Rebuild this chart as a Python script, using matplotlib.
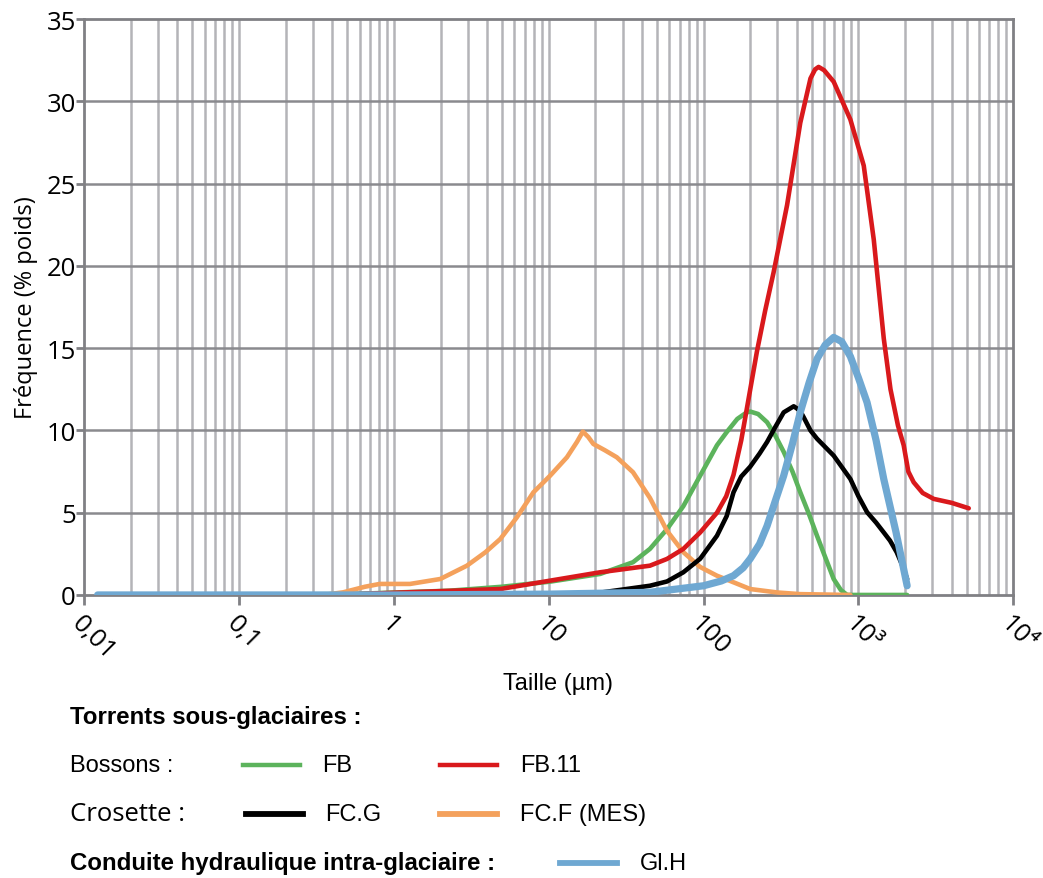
import numpy as np
import matplotlib.pyplot as plt
from matplotlib.lines import Line2D

# size (um) / frequency (% weight)
fb_x = [0.024, 0.5, 2.3, 5, 10.2, 21.5, 35, 45, 58, 74, 95, 122, 141, 165, 190, 200, 225,
        257, 290, 329, 375, 421, 480, 540, 610, 692, 770, 845, 2063]
fb_y = [0, 0.05, 0.26, 0.5, 0.81, 1.28, 1.99, 2.8, 4.0, 5.4, 7.25, 9.1, 9.9, 10.7, 11.1, 11.15, 11.0,
        10.5, 9.7, 8.7, 7.5, 6.24, 4.9, 3.6, 2.3, 0.97, 0.3, 0, 0]

fb11_x = [0.4, 4.86, 10.2, 21.5, 45, 58, 74, 95, 122, 140, 156, 175, 190, 221, 250, 283, 346, 421, 490,
          525, 553, 600, 692, 887, 1082, 1256, 1457, 1611, 1800, 1960, 2100, 2274, 2600,
          3063, 4000, 5156]
fb11_y = [0, 0.36, 0.87, 1.38, 1.78, 2.19, 2.8, 3.8, 5.0, 6.0, 7.3, 9.4, 11.3, 14.8, 17.3, 19.6, 23.7, 28.7, 31.4,
          31.95, 32.1, 31.9, 31.2, 28.9, 26.1, 21.6, 15.6, 12.5, 10.3, 9.1, 7.5, 6.85, 6.2,
          5.84, 5.6, 5.27]

fcg_x = [0.4, 20, 45, 58, 74, 95, 122, 141, 156, 175, 200, 230, 257, 290, 329, 382, 420, 443,
         490, 540, 692, 887, 1000, 1137, 1300, 1457, 1600, 1766, 1900, 2063]
fcg_y = [0, 0.1, 0.56, 0.82, 1.38, 2.2, 3.6, 4.8, 6.24, 7.2, 7.8, 8.6, 9.3, 10.2, 11.1, 11.47, 11.2, 10.8,
         10.0, 9.5, 8.47, 7.05, 6.0, 5.03, 4.4, 3.8, 3.3, 2.6, 1.9, 0.97]

fcf_x = [0.35, 0.47, 0.65, 0.81, 1.27, 1.99, 2.96, 3.9, 4.86, 6.2, 7.96, 10.2, 13.1, 15.2, 16.6, 18,
         19.4, 23, 27.5, 35, 45, 58, 74, 95, 122, 156, 200, 300, 421, 887]
fcf_y = [0, 0.16, 0.5, 0.67, 0.67, 0.97, 1.78, 2.6, 3.4, 4.7, 6.24, 7.25, 8.37, 9.3, 9.93, 9.6,
         9.18, 8.8, 8.37, 7.46, 5.9, 3.9, 2.6, 1.7, 1.17, 0.77, 0.36, 0.15, 0.05, 0]

glh_x = [0.0122, 1, 10, 45, 100, 130, 156, 180, 200, 230, 257, 290, 329, 375, 421, 480, 540, 610,
         692, 780, 887, 1000, 1137, 1300, 1457, 1750, 2063]
glh_y = [0, 0, 0.05, 0.16, 0.56, 0.85, 1.17, 1.65, 2.2, 3.1, 4.2, 5.7, 7.25, 9.2, 11.1, 12.9, 14.35, 15.2,
         15.66, 15.4, 14.5, 13.2, 11.7, 9.4, 7.05, 3.8, 0.56]

xticks = [0.01, 0.1, 1, 10, 100, 1000, 10000]
xticklabels = ['0,01', '0,1', '1', '10', '100', '10³', '10⁴']

green = '#5cb35c'
red = '#d9191c'
black = '#000000'
orange = '#f4a15c'
blue = '#6fa8d2'

fig = plt.figure(figsize=(10.43, 8.79), dpi=100)
ax = fig.add_axes([0.0808, 0.322, 0.8907, 0.655])

ax.set_xscale('log')
ax.set_xlim(0.01, 10000)
ax.set_ylim(0, 35)

# grid
for dec in range(-2, 4):
    for m in range(1, 10):
        v = m * 10.0 ** dec
        if v > 0.01:
            ax.axvline(v, color='#b4b4b8', lw=1.8, zorder=1)
for v in range(5, 35, 5):
    ax.axhline(v, color='#8a8a8e', lw=1.8, zorder=1)

for s in ax.spines.values():
    s.set_color('#808084')
    s.set_linewidth(2)
    s.set_zorder(2)

kw = dict(zorder=3, solid_capstyle='round', solid_joinstyle='round')
ax.plot(fb_x, fb_y, color=green, lw=3.3, **kw)
ax.plot(fcf_x, fcf_y, color=orange, lw=3.3, **kw)
ax.plot(fcg_x, fcg_y, color=black, lw=3.3, **kw)
ax.plot(fb11_x, fb11_y, color=red, lw=3.3, **kw)
ax.plot(glh_x, glh_y, color=blue, lw=5.2, **kw)

ax.set_yticks(range(0, 40, 5))
ax.set_yticklabels([str(v) for v in range(0, 40, 5)], fontsize=18.5, family='Open Sans')
ax.set_xticks(xticks)
ax.set_xticklabels(xticklabels, fontsize=18.5, family='Open Sans', rotation=-45,
                   ha='left', va='top', rotation_mode='anchor')
ax.xaxis.set_minor_locator(plt.NullLocator())
ax.tick_params(axis='y', length=6, width=2, color='#808084', pad=0)
ax.tick_params(axis='x', length=7, width=2, color='#808084', pad=4)

ax.set_ylabel('Fréquence (% poids)', fontsize=17, family='Open Sans', labelpad=6)
fig.text(558 / 1043, 1 - 684 / 879, 'Taille (µm)', fontsize=17, family='Liberation Sans',
         ha='center', va='center')

# legend block
def fy(py):
    return 1 - py / 879

def fx(px):
    return px / 1043

fig.text(fx(70), fy(718), 'Torrents sous-glaciaires :', fontsize=17.3, weight='bold',
         family='Liberation Sans', va='center')
fig.text(fx(70), fy(766), 'Bossons :', fontsize=17, family='Liberation Sans', va='center')
fig.text(fx(70), fy(815), 'Crosette :', fontsize=18.5, family='Open Sans', va='center')
fig.text(fx(70), fy(864), 'Conduite hydraulique intra-glaciaire :', fontsize=17.3,
         weight='bold', family='Liberation Sans', va='center')

entries = [(243, 766, green, 3.2, 'FB', 322),
           (440, 766, red, 3.2, 'FB.11', 520),
           (246, 815, black, 4.2, 'FC.G', 325),
           (440, 815, orange, 4.2, 'FC.F (MES)', 520),
           (560, 864, blue, 4.2, 'Gl.H', 640)]
for x0, y0, c, w, lab, tx in entries:
    fig.add_artist(Line2D([fx(x0), fx(x0 + 57)], [fy(y0), fy(y0)], color=c, lw=w))
    fig.text(fx(tx), fy(y0), lab, fontsize=17, family='Liberation Sans', va='center')

fig.savefig('out.png', dpi=100, facecolor='white')
